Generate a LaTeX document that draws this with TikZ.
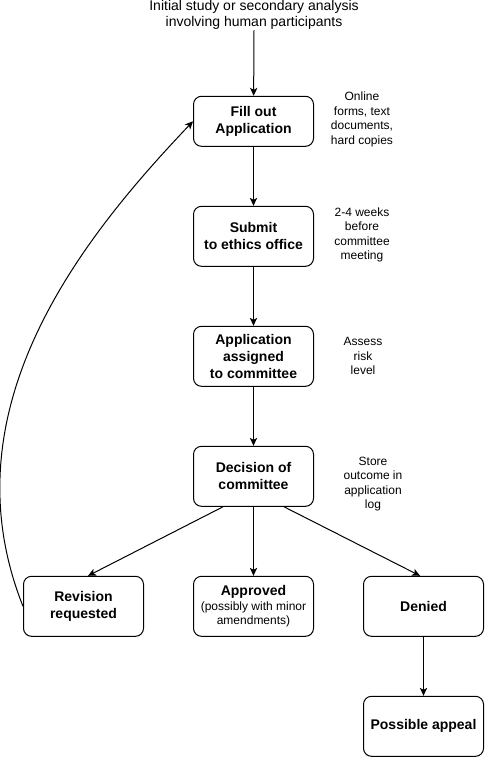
\documentclass[tikz,border=0pt]{standalone}
\usepackage{fontspec}
\setmainfont{Liberation Sans}
\usetikzlibrary{arrows.meta}

\tikzset{every picture/.style={line width=0.75pt}}
\tikzset{
  stepbox/.style={draw, rounded corners=6pt, minimum width=90pt, minimum height=45pt,
    inner sep=0pt, align=center, font=\fontsize{10.5}{12.75}\selectfont\bfseries},
  note/.style={inner sep=0pt, align=center, font=\fontsize{9}{10.9}\selectfont},
  arr/.style={-{Stealth[length=6pt,width=5.5pt,inset=1.6pt]}}
}

\begin{document}
\begin{tikzpicture}[x=0.75pt,y=0.75pt,yscale=-1,xscale=1]
		\useasboundingbox (0,0) rectangle (485,757);

		% Text Node
		\node (top) [inner sep=0pt, align=center, font=\fontsize{10.5}{12.4}\selectfont] at (254,15) {Initial study or secondary analysis\\involving human participants};

		%Shape: Rounded Rect [id:fill] 
		\node (fill) [stepbox, minimum height=37.5pt] at (253.5,121.3) {Fill out\\Application};
		%Shape: Rounded Rect [id:submit] 
		\node (submit) [stepbox] at (253.5,236.3) {Submit\\to ethics office};
		%Shape: Rounded Rect [id:assign] 
		\node (assign) [stepbox] at (253.5,356.3) {Application\\assigned\\to committee};
		%Shape: Rounded Rect [id:decide] 
		\node (decide) [stepbox] at (253.5,476.3) {Decision of\\committee};
		%Shape: Rounded Rect [id:revise] 
		\node (revise) [stepbox] at (83.5,606.3) {Revision\\requested};
		%Shape: Rounded Rect [id:approve] 
		\node (approve) [stepbox] at (253.5,606.3) {Approved\\[-1.5pt]\fontsize{9}{9.75}\selectfont\mdseries (possibly with minor\\[-2.5pt]\fontsize{9}{9.75}\selectfont\mdseries amendments)};
		%Shape: Rounded Rect [id:deny] 
		\node (deny) [stepbox] at (423.5,606.3) {Denied};
		%Shape: Rounded Rect [id:appeal] 
		\node (appeal) [stepbox] at (423.5,726.3) {Possible appeal};

		% Text Node
		\node (formsnote) [note] at (362,119.5) {Online\\forms, text\\documents,\\hard copies};
		% Text Node
		\node (weeksnote) [note] at (362,235) {2-4 weeks\\before\\committee\\meeting};
		% Text Node
		\node (risknote) [note] at (363,356) {Assess\\risk\\level};
		% Text Node
		\node (lognote) [note] at (373,484) {Store\\outcome in\\application\\log};

		%Straight Lines
		\draw [arr] (top.south) -- (fill);
		\draw [arr] (fill) -- (submit);
		\draw [arr] (submit) -- (assign);
		\draw [arr] (assign) -- (decide);
		\draw [arr] ([xshift=-22.9pt]decide.south) -- ([xshift=3.4pt]revise.north);
		\draw [arr] (decide) -- (approve);
		\draw [arr] ([xshift=22.9pt]decide.south) -- ([xshift=-2.6pt]deny.north);
		\draw [arr] (deny) -- (appeal);
		%Curve Lines
		\draw [arr] (revise.west) .. controls (-55,410) and (80,240) .. (fill.west);

	\end{tikzpicture}
\end{document}
